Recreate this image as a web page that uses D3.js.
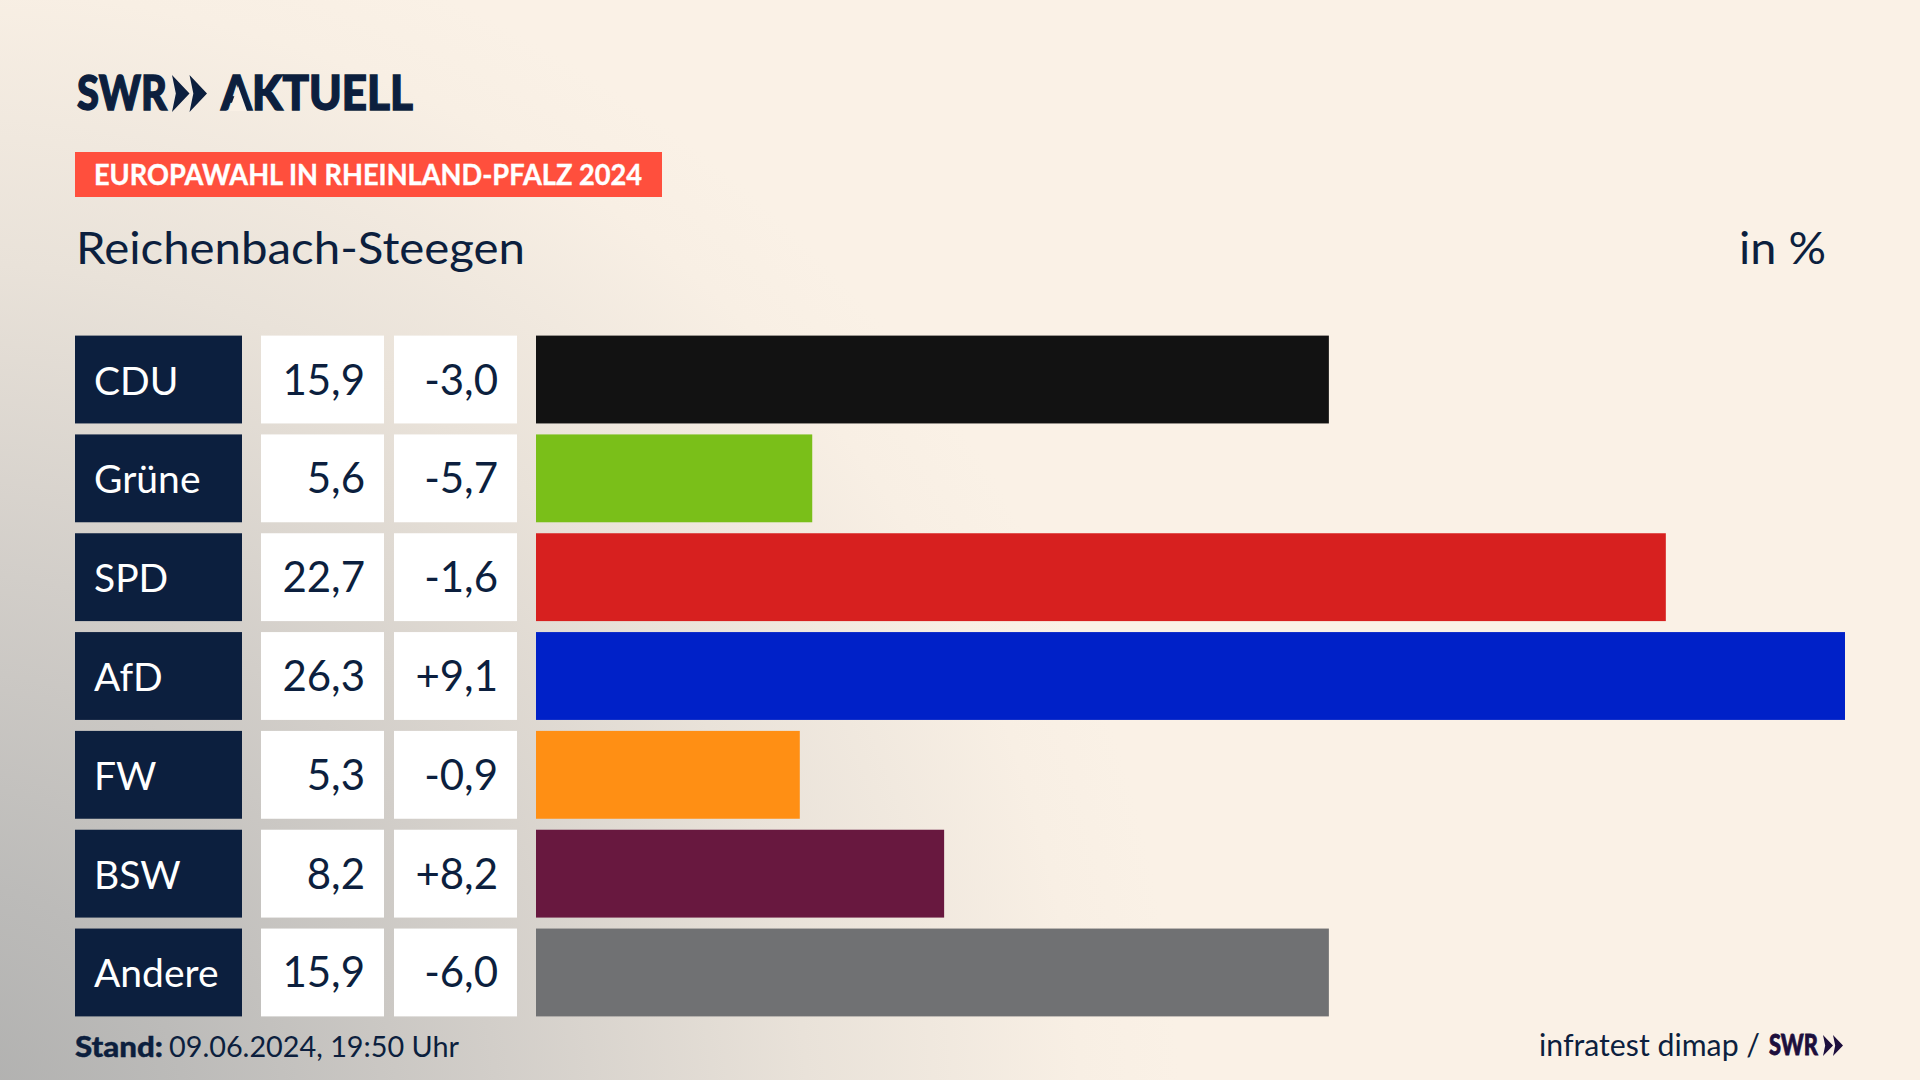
<!DOCTYPE html>
<html lang="de">
<head>
<meta charset="UTF-8">
<title>Europawahl Reichenbach-Steegen</title>
<script src="https://d3js.org/d3.v7.min.js"></script>
<style>
    html, body { margin: 0; padding: 0; background: #faf1e6; overflow: hidden; }
    svg { display: block; }
    text { font-family: Lato, "Open Sans", sans-serif; fill: #0c1f3e; }
</style>
</head>
<body>
<div id="chart"></div>
<script>
const parties = ["CDU", "Grüne", "SPD", "AfD", "FW", "BSW", "Andere"];
const shares = [15.9, 5.6, 22.7, 26.3, 5.3, 8.2, 15.9];
// bar lengths as measured, the source draws them from unrounded numbers
const barShares = [15.93, 5.55, 22.7, 26.3, 5.3, 8.2, 15.93];
const changes = [-3.0, -5.7, -1.6, 9.1, -0.9, 8.2, -6.0];
const partyColors = ["#121212", "#7abf19", "#d7201f", "#0021c8", "#ff8f14", "#68183f", "#707173"];

const width = 1920, height = 1080;
const navy = "#0c1f3e";

const svg = d3.select("#chart").append("svg")
    .attr("width", width)
    .attr("height", height);

// background: cream with a grey glow out of the bottom left corner
const glow = svg.append("defs").append("radialGradient")
    .attr("id", "glow")
    .attr("gradientUnits", "userSpaceOnUse")
    .attr("cx", -60).attr("cy", 1130).attr("r", 1240);
[[0, "#aeaead"], [0.2, "#bcbbb9"], [0.45, "#d2cec9"], [0.7, "#e9e2d9"], [0.92, "#f8efe4"], [1, "#faf1e6"]]
    .forEach(s => glow.append("stop").attr("offset", s[0]).attr("stop-color", s[1]));

svg.append("rect").attr("width", width).attr("height", height).attr("fill", "#faf1e6");
svg.append("rect").attr("width", width).attr("height", height).attr("fill", "url(#glow)");

const x = d3.scaleLinear().domain([0, 26.3]).range([536, 1845]);
const y = d3.scaleBand().domain(parties).range([335.6, 1016.4]).paddingInner(1 / 9);

const comma = v => v.toFixed(1).replace(".", ",");
const signed = v => (v > 0 ? "+" : "-") + comma(Math.abs(v));

const rows = svg.append("g").selectAll("g")
    .data(parties)
    .enter().append("g")
    .attr("transform", d => `translate(0,${y(d)})`);

rows.append("rect").attr("x", 75).attr("width", 167).attr("height", y.bandwidth()).attr("fill", navy);
rows.append("rect").attr("x", 261).attr("width", 123).attr("height", y.bandwidth()).attr("fill", "#fff");
rows.append("rect").attr("x", 394).attr("width", 123).attr("height", y.bandwidth()).attr("fill", "#fff");

rows.append("rect")
    .attr("x", x(0))
    .attr("width", (d, i) => x(barShares[i]) - x(0))
    .attr("height", y.bandwidth())
    .attr("fill", (d, i) => partyColors[i]);

const baseline = y.bandwidth() / 2 + 15;
rows.append("text")
    .attr("x", 94).attr("y", baseline)
    .attr("font-size", 39)
    .style("fill", "#fff")
    .text(d => d);
rows.append("text")
    .attr("x", 365).attr("y", baseline)
    .attr("text-anchor", "end")
    .attr("font-size", 42)
    .text((d, i) => comma(shares[i]));
rows.append("text")
    .attr("x", 498).attr("y", baseline)
    .attr("text-anchor", "end")
    .attr("font-size", 42)
    .text((d, i) => signed(changes[i]));

// logo
function chevrons(g, left, top, h, w, fill) {
    [0, w * 0.5].forEach(dx => {
        g.append("path")
            .attr("d", d3.line()([
                [left + dx, top], [left + dx + w * 0.5, top + h / 2], [left + dx, top + h],
                [left + dx + w * 0.11, top + h / 2]
            ]) + "Z")
            .attr("fill", fill);
    });
}
const logo = svg.append("g");
logo.append("text").attr("x", 77).attr("y", 110)
    .attr("font-size", 48).attr("font-weight", 900)
    .attr("textLength", 90).attr("lengthAdjust", "spacingAndGlyphs")
    .style("stroke", navy).style("stroke-width", 1.4)
    .text("SWR");
chevrons(logo, 172, 75, 37, 35, navy);
logo.append("text").attr("x", 221).attr("y", 110)
    .attr("font-size", 48).attr("font-weight", 900)
    .attr("textLength", 192).attr("lengthAdjust", "spacingAndGlyphs")
    .style("stroke", navy).style("stroke-width", 1.4)
    .text("AKTUELL");
// the logo's A has no crossbar
logo.append("path")
    .attr("d", d3.line()([[238, 86], [229, 111], [247, 111]]) + "Z")
    .attr("fill", "#f9f0e5");

// header
svg.append("rect").attr("x", 75).attr("y", 152).attr("width", 587).attr("height", 45).attr("fill", "#ff4f3d");
svg.append("text").attr("x", 94).attr("y", 185)
    .attr("font-size", 28).attr("font-weight", 700)
    .attr("textLength", 548).attr("lengthAdjust", "spacingAndGlyphs")
    .style("fill", "#fff").style("stroke", "#fff").style("stroke-width", 0.4)
    .text("EUROPAWAHL IN RHEINLAND-PFALZ 2024");
svg.append("text").attr("x", 76).attr("y", 264)
    .attr("font-size", 44)
    .attr("textLength", 449).attr("lengthAdjust", "spacingAndGlyphs")
    .text("Reichenbach-Steegen");
svg.append("text").attr("x", 1739).attr("y", 264)
    .attr("font-size", 44)
    .attr("textLength", 87).attr("lengthAdjust", "spacingAndGlyphs")
    .text("in %");

// footer
svg.append("text").attr("x", 75).attr("y", 1057)
    .attr("font-size", 29).attr("font-weight", 900)
    .attr("textLength", 88).attr("lengthAdjust", "spacingAndGlyphs")
    .style("stroke", navy).style("stroke-width", 0.4)
    .text("Stand:");
svg.append("text").attr("x", 169).attr("y", 1057)
    .attr("font-size", 29)
    .attr("textLength", 290).attr("lengthAdjust", "spacingAndGlyphs")
    .text("09.06.2024, 19:50 Uhr");

svg.append("text").attr("x", 1539).attr("y", 1056)
    .attr("font-size", 30)
    .attr("textLength", 221).attr("lengthAdjust", "spacingAndGlyphs")
    .text("infratest dimap /");
svg.append("text").attr("x", 1769).attr("y", 1055)
    .attr("font-size", 28).attr("font-weight", 900)
    .attr("textLength", 49).attr("lengthAdjust", "spacingAndGlyphs")
    .style("fill", "#1d0f3d").style("stroke", "#1d0f3d").style("stroke-width", 0.8)
    .text("SWR");
chevrons(svg.append("g"), 1823, 1035, 21, 20, "#1d0f3d");
</script>
</body>
</html>
